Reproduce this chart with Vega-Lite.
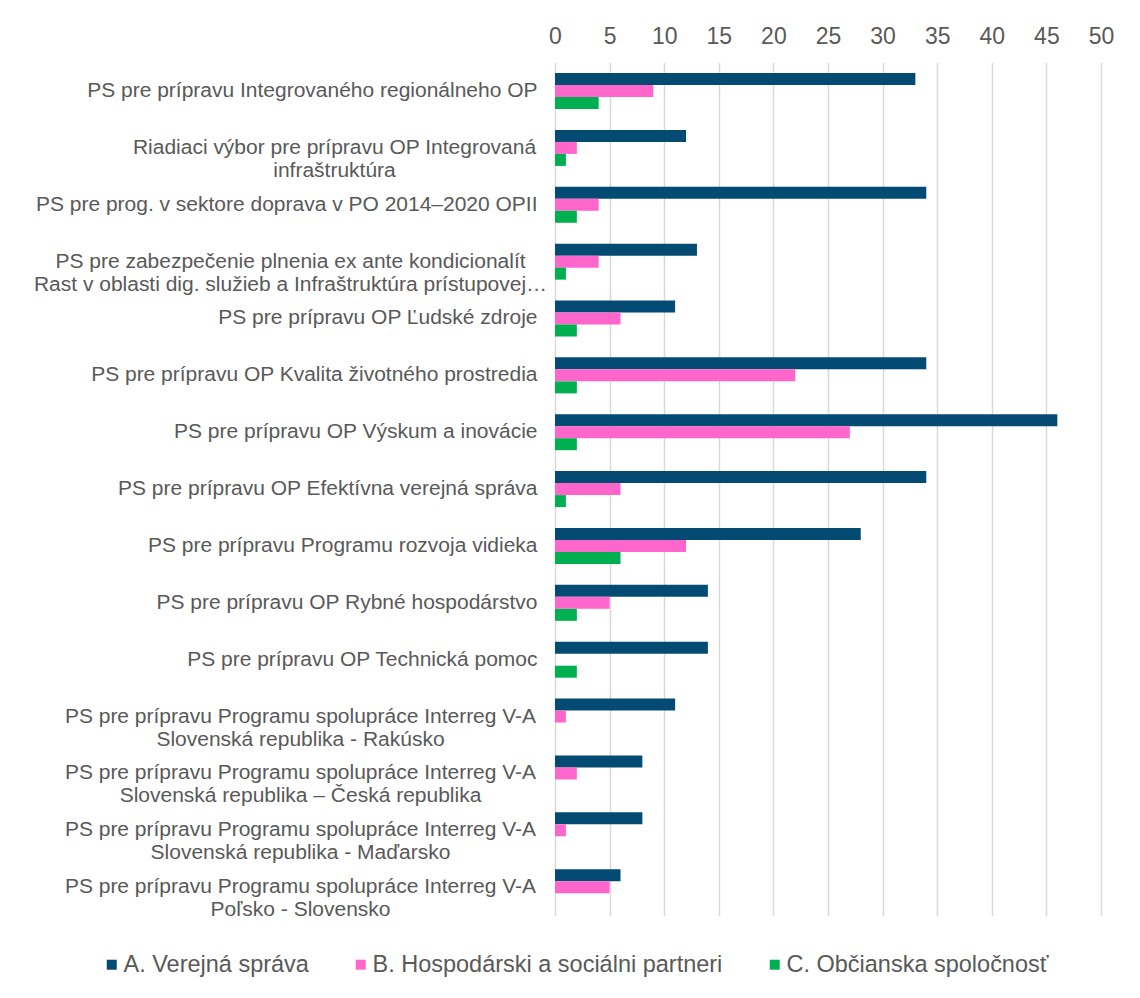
{
  "$schema": "https://vega.github.io/schema/vega-lite/v6.json",
  "width": 546,
  "height": 853,
  "autosize": {"type": "none"},
  "padding": {"left": 555, "top": 62.6, "right": 39, "bottom": 82},
  "background": "white",
  "data": {
    "values": [
      {"label": "PS pre prípravu Integrovaného regionálneho OP", "series": "A. Verejná správa", "value": 33},
      {"label": "PS pre prípravu Integrovaného regionálneho OP", "series": "B. Hospodárski a sociálni partneri", "value": 9},
      {"label": "PS pre prípravu Integrovaného regionálneho OP", "series": "C. Občianska spoločnosť", "value": 4},
      {"label": "Riadiaci výbor pre prípravu OP Integrovaná|infraštruktúra", "series": "A. Verejná správa", "value": 12},
      {"label": "Riadiaci výbor pre prípravu OP Integrovaná|infraštruktúra", "series": "B. Hospodárski a sociálni partneri", "value": 2},
      {"label": "Riadiaci výbor pre prípravu OP Integrovaná|infraštruktúra", "series": "C. Občianska spoločnosť", "value": 1},
      {"label": "PS pre prog. v sektore doprava v PO 2014–2020 OPII", "series": "A. Verejná správa", "value": 34},
      {"label": "PS pre prog. v sektore doprava v PO 2014–2020 OPII", "series": "B. Hospodárski a sociálni partneri", "value": 4},
      {"label": "PS pre prog. v sektore doprava v PO 2014–2020 OPII", "series": "C. Občianska spoločnosť", "value": 2},
      {"label": "PS pre zabezpečenie plnenia ex ante kondicionalít|Rast v oblasti dig. služieb a Infraštruktúra prístupovej…", "series": "A. Verejná správa", "value": 13},
      {"label": "PS pre zabezpečenie plnenia ex ante kondicionalít|Rast v oblasti dig. služieb a Infraštruktúra prístupovej…", "series": "B. Hospodárski a sociálni partneri", "value": 4},
      {"label": "PS pre zabezpečenie plnenia ex ante kondicionalít|Rast v oblasti dig. služieb a Infraštruktúra prístupovej…", "series": "C. Občianska spoločnosť", "value": 1},
      {"label": "PS pre prípravu OP Ľudské zdroje", "series": "A. Verejná správa", "value": 11},
      {"label": "PS pre prípravu OP Ľudské zdroje", "series": "B. Hospodárski a sociálni partneri", "value": 6},
      {"label": "PS pre prípravu OP Ľudské zdroje", "series": "C. Občianska spoločnosť", "value": 2},
      {"label": "PS pre prípravu OP Kvalita životného prostredia", "series": "A. Verejná správa", "value": 34},
      {"label": "PS pre prípravu OP Kvalita životného prostredia", "series": "B. Hospodárski a sociálni partneri", "value": 22},
      {"label": "PS pre prípravu OP Kvalita životného prostredia", "series": "C. Občianska spoločnosť", "value": 2},
      {"label": "PS pre prípravu OP Výskum a inovácie", "series": "A. Verejná správa", "value": 46},
      {"label": "PS pre prípravu OP Výskum a inovácie", "series": "B. Hospodárski a sociálni partneri", "value": 27},
      {"label": "PS pre prípravu OP Výskum a inovácie", "series": "C. Občianska spoločnosť", "value": 2},
      {"label": "PS pre prípravu OP Efektívna verejná správa", "series": "A. Verejná správa", "value": 34},
      {"label": "PS pre prípravu OP Efektívna verejná správa", "series": "B. Hospodárski a sociálni partneri", "value": 6},
      {"label": "PS pre prípravu OP Efektívna verejná správa", "series": "C. Občianska spoločnosť", "value": 1},
      {"label": "PS pre prípravu Programu rozvoja vidieka", "series": "A. Verejná správa", "value": 28},
      {"label": "PS pre prípravu Programu rozvoja vidieka", "series": "B. Hospodárski a sociálni partneri", "value": 12},
      {"label": "PS pre prípravu Programu rozvoja vidieka", "series": "C. Občianska spoločnosť", "value": 6},
      {"label": "PS pre prípravu OP Rybné hospodárstvo", "series": "A. Verejná správa", "value": 14},
      {"label": "PS pre prípravu OP Rybné hospodárstvo", "series": "B. Hospodárski a sociálni partneri", "value": 5},
      {"label": "PS pre prípravu OP Rybné hospodárstvo", "series": "C. Občianska spoločnosť", "value": 2},
      {"label": "PS pre prípravu OP Technická pomoc", "series": "A. Verejná správa", "value": 14},
      {"label": "PS pre prípravu OP Technická pomoc", "series": "B. Hospodárski a sociálni partneri", "value": 0},
      {"label": "PS pre prípravu OP Technická pomoc", "series": "C. Občianska spoločnosť", "value": 2},
      {"label": "PS pre prípravu Programu spolupráce Interreg V-A|Slovenská republika - Rakúsko", "series": "A. Verejná správa", "value": 11},
      {"label": "PS pre prípravu Programu spolupráce Interreg V-A|Slovenská republika - Rakúsko", "series": "B. Hospodárski a sociálni partneri", "value": 1},
      {"label": "PS pre prípravu Programu spolupráce Interreg V-A|Slovenská republika - Rakúsko", "series": "C. Občianska spoločnosť", "value": 0},
      {"label": "PS pre prípravu Programu spolupráce Interreg V-A|Slovenská republika – Česká republika", "series": "A. Verejná správa", "value": 8},
      {"label": "PS pre prípravu Programu spolupráce Interreg V-A|Slovenská republika – Česká republika", "series": "B. Hospodárski a sociálni partneri", "value": 2},
      {"label": "PS pre prípravu Programu spolupráce Interreg V-A|Slovenská republika – Česká republika", "series": "C. Občianska spoločnosť", "value": 0},
      {"label": "PS pre prípravu Programu spolupráce Interreg V-A|Slovenská republika - Maďarsko", "series": "A. Verejná správa", "value": 8},
      {"label": "PS pre prípravu Programu spolupráce Interreg V-A|Slovenská republika - Maďarsko", "series": "B. Hospodárski a sociálni partneri", "value": 1},
      {"label": "PS pre prípravu Programu spolupráce Interreg V-A|Slovenská republika - Maďarsko", "series": "C. Občianska spoločnosť", "value": 0},
      {"label": "PS pre prípravu Programu spolupráce Interreg V-A|Poľsko - Slovensko", "series": "A. Verejná správa", "value": 6},
      {"label": "PS pre prípravu Programu spolupráce Interreg V-A|Poľsko - Slovensko", "series": "B. Hospodárski a sociálni partneri", "value": 5},
      {"label": "PS pre prípravu Programu spolupráce Interreg V-A|Poľsko - Slovensko", "series": "C. Občianska spoločnosť", "value": 0}
    ]
  },
  "mark": {"type": "bar", "cornerRadius": 0},
  "encoding": {
    "y": {
      "field": "label",
      "type": "nominal",
      "sort": null,
      "scale": {"paddingInner": 0.367, "paddingOuter": 0.1835},
      "axis": {
        "title": null,
        "domain": false,
        "ticks": false,
        "labelExpr": "split(datum.label, '|')",
        "labelAlign": {
          "condition": {"test": "indexof(datum.value, '|') >= 0", "value": "center"},
          "value": "right"
        },
        "labelBaseline": "middle",
        "labelPadding": {
          "condition": [
            {"test": "indexof(datum.value, 'Riadiaci') >= 0", "value": 221},
            {"test": "indexof(datum.value, 'kondicionalít') >= 0", "value": 265},
            {"test": "indexof(datum.value, 'Interreg') >= 0", "value": 255}
          ],
          "value": 18
        },
        "labelLimit": 600,
        "labelLineHeight": 23,
        "labelFont": "Liberation Sans",
        "labelFontSize": 21,
        "labelColor": "#595959"
      }
    },
    "yOffset": {
      "field": "series",
      "type": "nominal",
      "sort": null,
      "scale": {"paddingInner": 0, "paddingOuter": 0}
    },
    "x": {
      "field": "value",
      "type": "quantitative",
      "scale": {"domain": [0, 50], "nice": false},
      "axis": {
        "orient": "top",
        "title": null,
        "values": [0, 5, 10, 15, 20, 25, 30, 35, 40, 45, 50],
        "domain": false,
        "ticks": false,
        "grid": true,
        "gridColor": "#D9D9D9",
        "gridWidth": 1.5,
        "labelFlush": false,
        "labelPadding": 14,
        "labelFont": "Liberation Sans",
        "labelFontSize": 23,
        "labelColor": "#595959"
      }
    },
    "color": {
      "field": "series",
      "type": "nominal",
      "sort": null,
      "scale": {
        "domain": ["A. Verejná správa", "B. Hospodárski a sociálni partneri", "C. Občianska spoločnosť"],
        "range": ["#034B73", "#FF66CC", "#00B050"]
      },
      "legend": {
        "title": null,
        "orient": "none",
        "direction": "horizontal",
        "legendX": -455,
        "legendY": 890,
        "symbolType": "square",
        "symbolSize": 100,
        "symbolStrokeWidth": 0,
        "labelOffset": 0,
        "columnPadding": 40,
        "labelFont": "Liberation Sans",
        "labelFontSize": 23.5,
        "labelColor": "#595959",
        "labelLimit": 500
      }
    }
  },
  "config": {
    "view": {"stroke": null}
  }
}
